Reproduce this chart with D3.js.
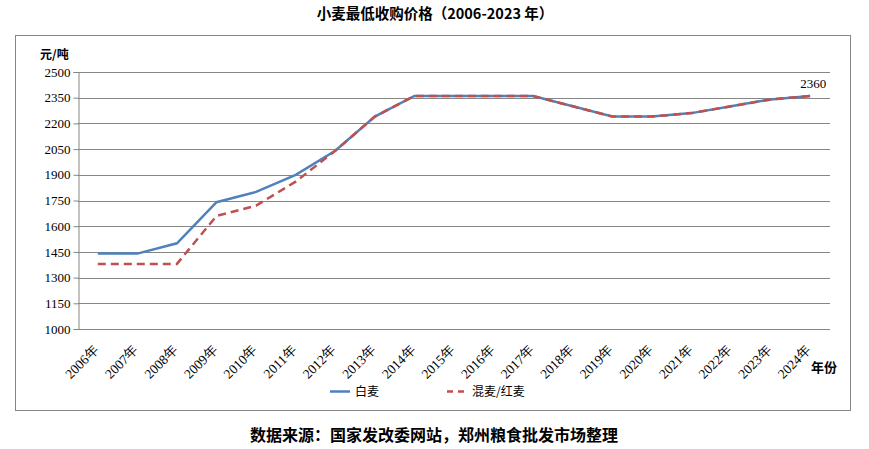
<!DOCTYPE html>
<html><head><meta charset="utf-8">
<script src="https://cdn.jsdelivr.net/npm/d3@7"></script>
<style>body{margin:0;background:#fff}svg{display:block}</style>
</head><body>
<script>
const years = ["2006年","2007年","2008年","2009年","2010年","2011年","2012年","2013年","2014年","2015年","2016年","2017年","2018年","2019年","2020年","2021年","2022年","2023年","2024年"];
const whiteWheat = [1440,1440,1500,1740,1800,1900,2040,2240,2360,2360,2360,2360,2300,2240,2240,2260,2300,2340,2360];
const redWheat   = [1380,1380,1380,1660,1720,1860,2040,2240,2360,2360,2360,2360,2300,2240,2240,2260,2300,2340,2360];
const yTicks = [1000,1150,1300,1450,1600,1750,1900,2050,2200,2350,2500];
const seriesNames = ["白麦","混麦/红麦"];

const W=869,H=449;
const svg=d3.select("body").append("svg").attr("width",W).attr("height",H);
const serif="'Liberation Serif','DejaVu Serif',serif";
const cjk="'Noto Sans CJK SC','Noto Sans',sans-serif";

svg.append("text").attr("x",435).attr("y",19).attr("text-anchor","middle")
  .style("font-family",cjk).style("font-weight","bold").style("font-size","14.5px")
  .text("小麦最低收购价格（2006-2023 年）");

svg.append("rect").attr("x",15.5).attr("y",35.5).attr("width",835).attr("height",375)
  .attr("fill","none").attr("stroke","#868686").attr("stroke-width",1);

const L=78,R=830,T=72,B=329;
const x=d3.scaleBand().domain(years).range([L,R]);
const y=d3.scaleLinear().domain([1000,2500]).range([B,T]);

svg.append("g").selectAll("line").data(yTicks.slice(1)).join("line")
  .attr("x1",L).attr("x2",R).attr("y1",d=>Math.round(y(d))+0.5).attr("y2",d=>Math.round(y(d))+0.5)
  .attr("stroke","#868686");

const ya=svg.append("g").attr("transform",`translate(${L+0.5},0)`)
  .call(d3.axisLeft(y).tickValues(yTicks).tickSize(5).tickPadding(3).tickFormat(d3.format("d")));
ya.select(".domain").attr("stroke","#868686");
ya.selectAll(".tick line").attr("stroke","#868686");
ya.selectAll("text").style("font-family",serif).style("font-size","13px").attr("fill","#000");

const xa=svg.append("g").attr("transform",`translate(0,${B+0.5})`)
  .call(d3.axisBottom(x).tickSize(0).tickPadding(0));
xa.select(".domain").attr("stroke","#868686").attr("d",`M${L},0H${R}`);
xa.selectAll("text").style("font-family",serif).style("font-size","13.5px").attr("fill","#000")
  .attr("text-anchor","end").attr("dy",null).attr("y",0)
  .attr("transform","translate(2,21) rotate(-45)");

svg.append("text").attr("x",40).attr("y",59).style("font-family",cjk).style("font-weight","bold")
  .style("font-size","12px").text("元/吨");
svg.append("text").attr("x",811).attr("y",372).style("font-family",cjk).style("font-weight","bold")
  .style("font-size","13px").text("年份");

const line=d3.line().x((d,i)=>x(years[i])+x.bandwidth()/2).y(d=>y(d));
svg.append("path").datum(whiteWheat).attr("d",line).attr("fill","none")
  .attr("stroke","#4F81BD").attr("stroke-width",2.5);
svg.append("path").datum(redWheat).attr("d",line).attr("fill","none")
  .attr("stroke","#C0504D").attr("stroke-width",2.5).attr("stroke-dasharray","8,5");

const last=years.length-1;
svg.append("text").attr("x",x(years[last])+x.bandwidth()/2+3).attr("y",y(whiteWheat[last])-8)
  .attr("text-anchor","middle").style("font-family",serif).style("font-size","13px")
  .text(whiteWheat[last]);

const lg=svg.append("g");
lg.append("line").attr("x1",330).attr("x2",350).attr("y1",391.5).attr("y2",391.5)
  .attr("stroke","#4F81BD").attr("stroke-width",2.5);
lg.append("text").attr("x",355).attr("y",396).style("font-family",cjk).style("font-size","12px").text(seriesNames[0]);
lg.append("line").attr("x1",447).attr("x2",465).attr("y1",391.5).attr("y2",391.5)
  .attr("stroke","#C0504D").attr("stroke-width",2.5).attr("stroke-dasharray","6,5");
lg.append("text").attr("x",472).attr("y",396).style("font-family",cjk).style("font-size","12px").text(seriesNames[1]);

svg.append("text").attr("x",434).attr("y",441).attr("text-anchor","middle")
  .style("font-family",cjk).style("font-weight","bold").style("font-size","16px")
  .text("数据来源：国家发改委网站，郑州粮食批发市场整理");
</script>
</body></html>
